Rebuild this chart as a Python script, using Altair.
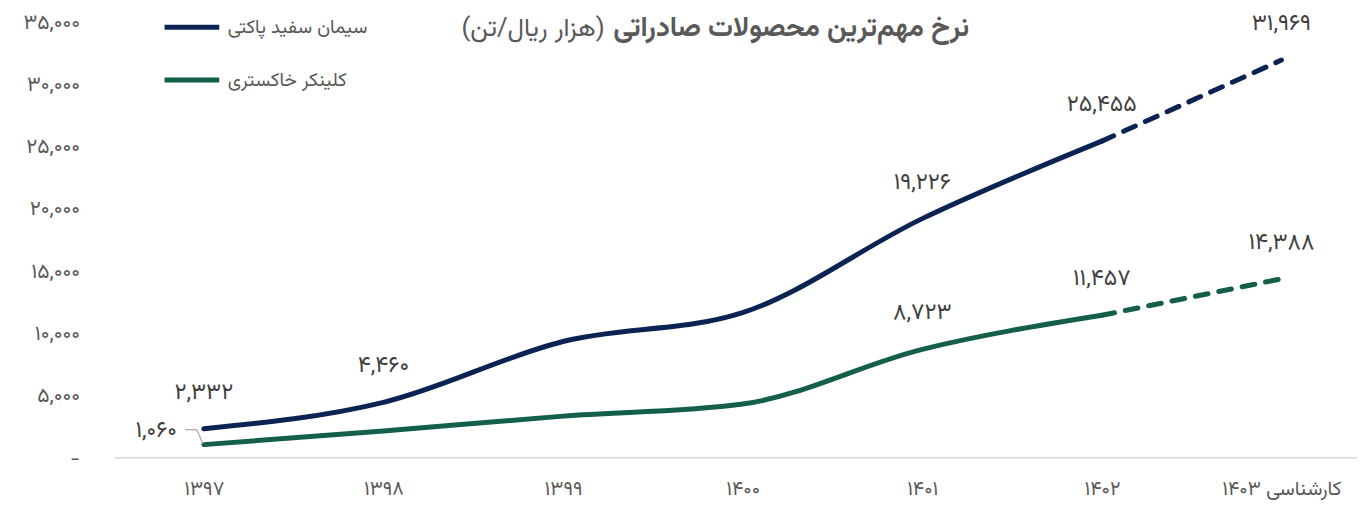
import altair as alt
import pandas as pd

# ---------------- data ----------------
years = ["۱۳۹۷", "۱۳۹۸", "۱۳۹۹", "۱۴۰۰", "۱۴۰۱", "۱۴۰۲", "کارشناسی ۱۴۰۳"]
series_names = ["سیمان سفید پاکتی", "کلینکر خاکستری"]
white_cement = [2332, 4460, 9350, 11670, 19226, 25455, 31969]
clinker = [1060, 2160, 3350, 4320, 8723, 11457, 14388]
white_labeled = [True, True, False, False, True, True, True]
clinker_labeled = [False, False, False, False, True, True, True]
clinker_side_label_index = 0  # 1,060 is written to the left with a leader line

y_ticks = [0, 5000, 10000, 15000, 20000, 25000, 30000, 35000]
y_tick_labels = ["-", "۵,۰۰۰", "۱۰,۰۰۰", "۱۵,۰۰۰", "۲۰,۰۰۰", "۲۵,۰۰۰", "۳۰,۰۰۰", "۳۵,۰۰۰"]

title_bold = "نرخ مهم‌ترین محصولات صادراتی"
title_light = "(هزار ریال/تن)"

colors = ["#0B2352", "#135F4C"]
FONT = "Vazirmatn, Noto Sans Arabic, DejaVu Sans, sans-serif"

fa = str.maketrans("0123456789", "۰۱۲۳۴۵۶۷۸۹")


def fa_num(v):
    return f"{v:,}".translate(fa)


rows = []
for name, vals, labeled in [(series_names[0], white_cement, white_labeled),
                            (series_names[1], clinker, clinker_labeled)]:
    for i, (yr, v) in enumerate(zip(years, vals)):
        seg = "actual" if i <= 5 else "forecast"
        rows.append({"series": name, "year": yr, "value": v, "seg": seg,
                     "label": fa_num(v) if labeled[i] else "", "order": i})
        if i == 5:
            rows.append({"series": name, "year": yr, "value": v, "seg": "forecast",
                         "label": "", "order": i})
df = pd.DataFrame(rows)

side_df = pd.DataFrame([{"year": years[clinker_side_label_index],
                         "value": clinker[clinker_side_label_index],
                         "label": fa_num(clinker[clinker_side_label_index])}])

W, H = 1250, 438

x = alt.X("year:N", sort=years,
          scale=alt.Scale(type="point", range=[90, 1174], padding=0),
          axis=alt.Axis(title=None, domain=False, ticks=False, labelAngle=0,
                        labelFontSize=20, labelColor="#595959", labelPadding=21,
                        labelFont=FONT, grid=False))
y = alt.Y("value:Q", scale=alt.Scale(domain=[0, 35000], nice=False),
          axis=alt.Axis(title=None, values=y_ticks, domain=False, ticks=False, grid=False,
                        labelFontSize=21, labelColor="#595959", labelPadding=35,
                        labelFont=FONT,
                        labelExpr=str(y_tick_labels) + "[round(datum.value/5000)]"))
color = alt.Color("series:N", scale=alt.Scale(domain=series_names, range=colors),
                  legend=alt.Legend(title=None, orient="none", legendX=48, legendY=-25,
                                    symbolType="stroke", symbolSize=3025,
                                    symbolStrokeWidth=5, labelFontSize=19,
                                    labelColor="#595959", labelFont=FONT,
                                    rowPadding=13, labelOffset=6, padding=0))

base = alt.Chart(df)

baseline = alt.Chart(pd.DataFrame({"v": [0]})).mark_rule(
    color="#D9D9D9", strokeWidth=1.5).encode(
    y=alt.Y("v:Q", scale=alt.Scale(domain=[0, 35000], nice=False)),
    x=alt.value(0), x2=alt.value(W))

solid = base.transform_filter(alt.datum.seg == "actual").mark_line(
    strokeWidth=5, strokeCap="round", interpolate="monotone").encode(
    x=x, y=y, color=color, order="order:Q")

dashed = base.transform_filter(alt.datum.seg == "forecast").mark_line(
    strokeWidth=5, strokeCap="round", strokeDash=[13, 11]).encode(
    x=x, y=y, color=alt.Color("series:N", scale=alt.Scale(domain=series_names, range=colors),
                              legend=None), order="order:Q")

labels = base.transform_filter(alt.datum.label != "").mark_text(
    dy=-37, fontSize=23, color="#404040", font=FONT).encode(
    x=x, y=y, text="label:N")

side_label = alt.Chart(side_df).mark_text(
    dx=-27, dy=-15, align="right", fontSize=23, color="#404040", font=FONT).encode(
    x=x, y=y, text="label:N")
lead_h = alt.Chart(side_df).mark_rule(color="#A6A6A6", strokeWidth=1.2,
                                      xOffset=-19, x2Offset=-7, yOffset=-15, y2Offset=-15).encode(
    x=x, x2="year:N", y=y, y2="value:Q")
lead_d = alt.Chart(side_df).mark_rule(color="#A6A6A6", strokeWidth=1.2,
                                      xOffset=-7, x2Offset=-1, yOffset=-15, y2Offset=-1).encode(
    x=x, x2="year:N", y=y, y2="value:Q")

t1 = alt.Chart(pd.DataFrame({"t": [title_bold]})).mark_text(
    align="right", baseline="middle", fontSize=28, fontWeight="bold",
    color="#595959", font=FONT).encode(x=alt.value(860), y=alt.value(6), text="t:N")
t2 = alt.Chart(pd.DataFrame({"t": [title_light]})).mark_text(
    align="right", baseline="middle", fontSize=26, color="#595959",
    font=FONT).encode(x=alt.value(493), y=alt.value(6), text="t:N")

chart = alt.layer(baseline, solid, dashed, labels, side_label, lead_h, lead_d, t1, t2).properties(
    width=W, height=H,
    autosize=alt.AutoSizeParams(type="none"),
    padding={"left": 107, "top": 13, "right": 0, "bottom": 46},
    background="white",
).configure_view(stroke=None)

chart.save("out.html", embed_options={"renderer": "svg", "actions": False})
